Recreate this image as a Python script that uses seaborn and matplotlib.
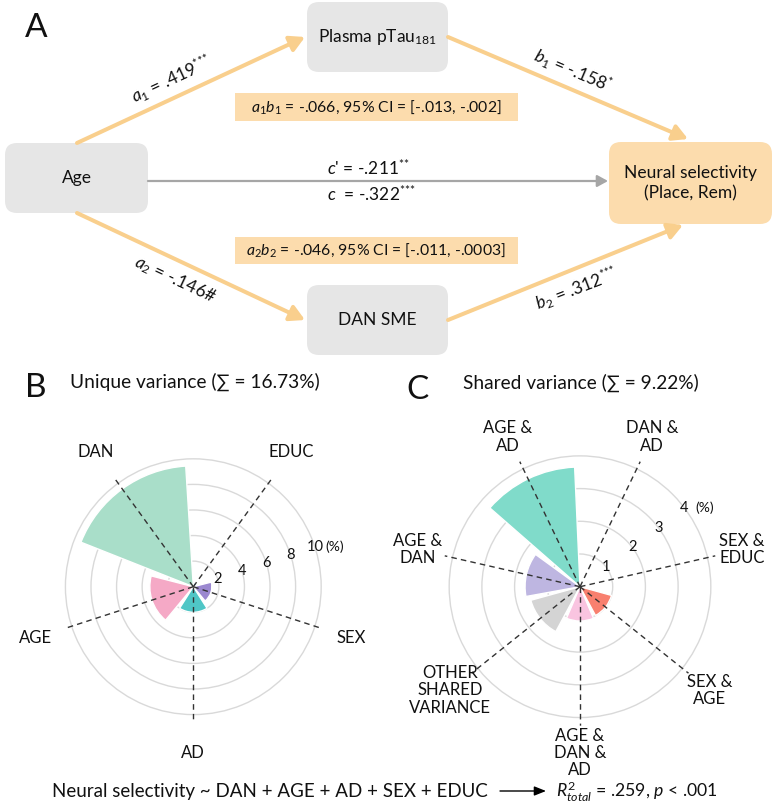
import numpy as np
import pandas as pd
import seaborn as sns
import matplotlib.pyplot as plt
from matplotlib.patches import FancyBboxPatch, FancyArrowPatch, Rectangle

sns.set_theme(style='white')
plt.rcParams['font.family'] = ['Lato', 'DejaVu Sans']
plt.rcParams['text.color'] = '#111111'
plt.rcParams['mathtext.fontset'] = 'custom'
plt.rcParams['mathtext.rm'] = 'Lato'
plt.rcParams['mathtext.it'] = 'Lato:italic'
plt.rcParams['mathtext.bf'] = 'Lato:bold'

# data
unique_labels = ['AD', 'SEX', 'EDUC', 'DAN', 'AGE']
unique_values = [2.0, 1.45, 0.3, 9.45, 3.4]
unique_colors = ['#4fc6c6', '#9b88d0', '#4a8fdc', '#a9dec9', '#f5a9c6']
unique_ticks = [2, 4, 6, 8, 10]

shared_labels = ['AGE &\nDAN &\nAD', 'SEX &\nAGE', 'SEX &\nEDUC', 'DAN &\nAD',
                 'AGE &\nAD', 'AGE &\nDAN', 'OTHER\nSHARED\nVARIANCE']
shared_values = [1.05, 1.0, 0.05, 0.05, 3.66, 1.68, 1.56]
shared_colors = ['#f9c4e0', '#f8806f', '#f8806f', '#80dbca', '#80dbca', '#beb6e1', '#d4d4d4']
shared_ticks = [1, 2, 3, 4]

path_names = ['a_1', 'b_1', 'a_2', 'b_2']
path_values = ['.419', '-.158', '-.146', '.312']
path_sig = [r'$^{\text{***}}$', r'$^{\text{*}}$', '#', r'$^{\text{***}}$']

unique_df = pd.DataFrame({'label': unique_labels, 'value': unique_values, 'color': unique_colors})
shared_df = pd.DataFrame({'label': shared_labels, 'value': shared_values, 'color': shared_colors})

W, H = 779, 809
ORANGE = '#f9cf8d'
LIGHT = '#fcdcad'
GREY = '#e6e6e6'

fig = plt.figure(figsize=(W / 100, H / 100), dpi=100)
ax = fig.add_axes([0, 0, 1, 1])
ax.set_xlim(0, W)
ax.set_ylim(H, 0)
ax.axis('off')


def box(x0, y0, x1, y1, fc, text, fs=12.5):
    ax.add_patch(FancyBboxPatch((x0, y0), x1 - x0, y1 - y0,
                                boxstyle='round,pad=0,rounding_size=12', fc=fc, ec='none'))
    ax.text((x0 + x1) / 2, (y0 + y1) / 2, text, ha='center', va='center',
            fontsize=fs, linespacing=1.35)


def arrow(p0, p1, color=ORANGE, lw=2.9, ms=22):
    ax.add_patch(FancyArrowPatch(p0, p1, arrowstyle='-|>,head_length=0.4,head_width=0.22',
                                 mutation_scale=ms, lw=lw, color=color,
                                 shrinkA=0, shrinkB=0))


def fit_width(t, target):
    # rescale a text so it spans the target width in pixels
    fig.canvas.draw()
    w = t.get_window_extent().width
    t.set_fontsize(t.get_fontsize() * target / w)


# panel A
box(307, 2, 448, 72, GREY, r'Plasma pTau$_{\mathrm{181}}$')
box(5, 143, 148, 213, GREY, 'Age')
box(307, 285, 448, 355, GREY, 'DAN SME')
box(609, 142, 772, 224, LIGHT, 'Neural selectivity\n(Place, Rem)')

arrow((77, 143), (305, 37))
arrow((448, 37), (688, 139))
arrow((77, 213), (305, 320))
arrow((448, 320), (683, 225))
arrow((148, 181), (608, 181), color='#a6a6a6', lw=1.6, ms=16)

label_pos = [(172, 80, 25), (572, 71, -23), (175, 280, -25), (577, 289, 21)]
for (x, y, rot), nm, v, s in zip(label_pos, path_names, path_values, path_sig):
    ax.text(x, y, f'${nm}$ = {v}{s}', ha='center', va='center', rotation=rot,
            rotation_mode='anchor', fontsize=12.5)

ax.add_patch(Rectangle((235, 93), 283, 28, fc=LIGHT, ec='none'))
ax.text(376, 107, r'$a_1b_1$ = -.066, 95% CI = [-.013, -.002]', ha='center', va='center', fontsize=11.3)
ax.add_patch(Rectangle((235, 237), 283, 27, fc=LIGHT, ec='none'))
ax.text(376, 250, r'$a_2b_2$ = -.046, 95% CI = [-.011, -.0003]', ha='center', va='center', fontsize=11.3)

ax.text(327, 168, r"$c$' = -.211$^{\text{**}}$", ha='left', va='center', fontsize=12.5)
ax.text(327, 194, r"$c$  = -.322$^{\text{***}}$", ha='left', va='center', fontsize=12.5)

ax.text(25, 28, 'A', ha='left', va='center', fontsize=24)
ax.text(25, 388, 'B', ha='left', va='center', fontsize=24)
ax.text(406, 390, 'C', ha='left', va='center', fontsize=24)
ax.text(70, 382, 'Unique variance (\u2211 = 16.73%)', ha='left', va='center', fontsize=13.8)
ax.text(463, 383, 'Shared variance (\u2211 = 9.22%)', ha='left', va='center', fontsize=13.8)

# bottom formula
t1 = ax.text(52, 792, 'Neural selectivity ~ DAN + AGE + AD + SEX + EDUC', ha='left', va='center', fontsize=13)
fit_width(t1, 434)
ax.add_patch(FancyArrowPatch((500, 791), (546, 791), arrowstyle='-|>,head_length=0.5,head_width=0.2',
                             mutation_scale=14, lw=1, color='black', shrinkA=0, shrinkB=0))
t2 = ax.text(556, 792, r'$R^2_{total}$ = .259, $p$ < .001', ha='left', va='center', fontsize=13)
fit_width(t2, 161)


def rose(df, ticks, cx, cy, rpx, rmax, tick_angle, label_r):
    axp = fig.add_axes([(cx - rpx) / W, (H - cy - rpx) / H, 2 * rpx / W, 2 * rpx / H],
                       projection='polar')
    axp.patch.set_alpha(0)
    n = len(df)
    theta = np.arange(n) * 2 * np.pi / n
    axp.set_theta_offset(-np.pi / 2)
    axp.bar(theta, df['value'], width=2 * np.pi / n * 0.9, color=df['color'],
            edgecolor='white', linewidth=1, zorder=2)
    for t in theta:
        axp.plot([t, t], [0, rmax], ls=(0, (4, 3)), color='#333333', lw=1, zorder=3)
    axp.set_ylim(0, rmax)
    axp.set_xticks([])
    axp.set_yticks(ticks)
    axp.set_yticklabels([])
    axp.grid(True, axis='y', color='#d9d9d9', lw=1)
    axp.spines['polar'].set_visible(False)
    ta = np.deg2rad(tick_angle + 90)
    for v in ticks:
        axp.text(ta, v, str(v), ha='center', va='center', fontsize=10.5, zorder=4)
    axp.annotate('(%)', xy=(ta, ticks[-1]), xytext=(7.5, 0), textcoords='offset points',
                 ha='left', va='center', fontsize=10)
    for lab, t in zip(df['label'], theta):
        axp.text(t, label_r, lab, ha='center', va='center', fontsize=12,
                 linespacing=1.1, clip_on=False)
    return axp


rose(unique_df, unique_ticks, 193.3, 586.7, 133, 10.4, 18, 13.0)
rose(shared_df, shared_ticks, 580, 586.7, 139, 4.25, 37, 5.08)

fig.savefig('out.png', dpi=100)
